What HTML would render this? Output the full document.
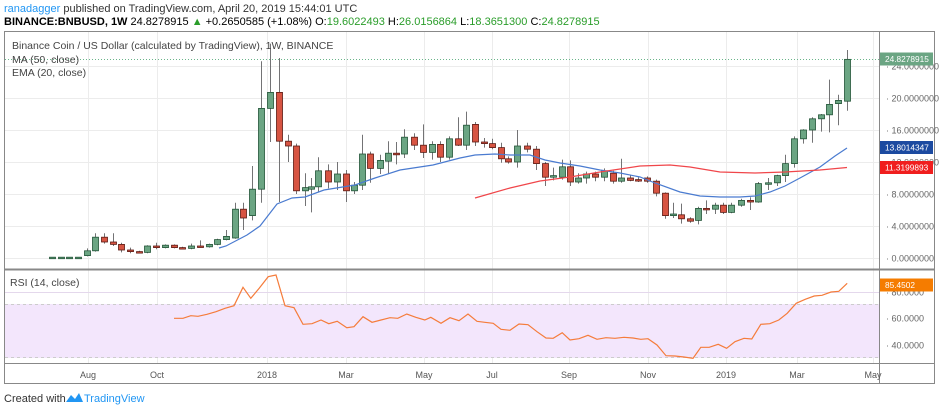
<!DOCTYPE html>
<html><head><meta charset="utf-8">
<style>
body{margin:0;background:#fff;width:939px;height:410px;overflow:hidden;font-family:"Liberation Sans",sans-serif}
svg{position:absolute;left:0;top:0}
</style></head><body>
<svg id="s" width="939" height="410" xmlns="http://www.w3.org/2000/svg" font-family="Liberation Sans, sans-serif">
<text x="4" y="12" font-size="11" fill="#333"><tspan fill="#2196f3">ranadagger</tspan> published on TradingView.com, April 20, 2019 15:44:01 UTC</text>
<text x="4" y="25" font-size="11" fill="#000"><tspan font-weight="bold">BINANCE:BNBUSD, 1W</tspan> 24.8278915 <tspan fill="#2a9d2a">▲</tspan> +0.2650585 (+1.08%) O:<tspan fill="#2a9d2a">19.6022493</tspan> H:<tspan fill="#2a9d2a">26.0156864</tspan> L:<tspan fill="#2a9d2a">18.3651300</tspan> C:<tspan fill="#2a9d2a">24.8278915</tspan></text>
<g id="grid"></g>
<rect x="4.5" y="31.5" width="930" height="352" fill="none" stroke="#888"/>
<line x1="879.5" y1="31" x2="879.5" y2="384" stroke="#888"/>
<line x1="4" y1="269.5" x2="935" y2="269.5" stroke="#888" stroke-width="2"/>
<line x1="4" y1="363.5" x2="935" y2="363.5" stroke="#888"/>
<rect x="5" y="304" width="874" height="54" fill="#f3e6fc"/>
<line x1="5" y1="304.5" x2="879" y2="304.5" stroke="#ccc" stroke-dasharray="3,3"/>
<line x1="5" y1="357.5" x2="879" y2="357.5" stroke="#ccc" stroke-dasharray="3,3"/>
<line x1="5" y1="59.5" x2="879" y2="59.5" stroke="#6ab58a" stroke-dasharray="1,2"/>
<g id="c"></g>
<text x="12" y="49" font-size="10.5" fill="#444">Binance Coin / US Dollar (calculated by TradingView), 1W, BINANCE</text>
<text x="12" y="63" font-size="10.5" fill="#444">MA (50, close)</text>
<text x="12" y="76" font-size="10.5" fill="#444">EMA (20, close)</text>
<text x="10" y="286" font-size="10.5" fill="#444">RSI (14, close)</text>
<text x="4" y="402" font-size="11" fill="#333">Created with</text>
<path d="M66 402 L71 395 L75 399 L79 393 L83 402 Z" fill="#2196f3"/>
<text x="84" y="402" font-size="11" fill="#2196f3">TradingView</text>
</svg>
<script>
const s=document.getElementById('s'),G=document.getElementById('grid'),C=document.getElementById('c');
const NS='http://www.w3.org/2000/svg';
function el(p,t,a,txt){const e=document.createElementNS(NS,t);for(const k in a)e.setAttribute(k,a[k]);if(txt!=null)e.textContent=txt;p.appendChild(e);return e;}
const Y=p=>258-8*p;
[[88,'Aug'],[157,'Oct'],[267,'2018'],[346,'Mar'],[424,'May'],[492,'Jul'],[569,'Sep'],[648,'Nov'],[726,'2019'],[797,'Mar'],[873,'May']].forEach(([x,l])=>{
 el(G,'line',{x1:x+.5,y1:32,x2:x+.5,y2:363,stroke:'#ececec'});
 el(s,'text',{x:x,y:378,'font-size':9,fill:'#555','text-anchor':'middle'},l);
});
[0,4,8,12,16,20,24].forEach(v=>{const y=Y(v);el(G,'line',{x1:5,y1:y+.5,x2:879,y2:y+.5,stroke:'#ececec'});
 el(s,'text',{x:886,y:y+3.5,'font-size':9,fill:'#666'},'· '+v.toFixed(7));});
[[80,292],[60,318],[40,345]].forEach(([v,y])=>{el(G,'line',{x1:5,y1:y+.5,x2:879,y2:y+.5,stroke:'#e4d8ec'});
 el(s,'text',{x:886,y:y+3.5,'font-size':9,fill:'#666'},'· '+v.toFixed(4));});
const D=[[52,.1,.1,.1,.1],[61,.1,.1,.1,.1],[69,.1,.1,.1,.1],[78,.1,.1,.1,.1],[87,.3,1.2,.2,.9],[95,.9,3.1,.8,2.6],[104,2.6,3.1,1.8,2.0],[113,2.0,3.1,1.5,1.7],[121,1.7,1.9,.7,1.0],[130,1.0,1.3,.6,.8],[139,.8,.9,.6,.7],
[147,.7,1.6,.6,1.5],[156,1.5,1.9,1.1,1.3],[165,1.3,1.7,1.2,1.6],[174,1.6,1.7,1.2,1.3],[182,1.3,1.4,1.1,1.2],[191,1.2,1.8,1.1,1.5],[200,1.5,2.2,1.3,1.4],[209,1.4,1.8,1.3,1.7],[217,1.7,2.4,1.6,2.3],[226,2.3,3.5,2.2,2.7],
[235,2.5,6.9,2.4,6.1],[243,6.1,6.9,3.5,5.0],[252,5.3,11.5,4.7,8.6],[261,8.6,24.6,6.9,18.7],[270,18.7,26.8,14.5,20.7],[279,20.7,25,7,14.6],[288,14.6,15.4,12,14.0],[296,14.0,14.3,8.0,8.4],[305,8.4,10.6,6.5,8.8],
[311,8.6,10,5.7,8.9],[318,8.9,12.6,8.2,10.9],[328,10.9,11.7,8.7,9.5],[337,9.5,12,8.5,10.5],[346,10.5,11,7,8.4],[354,8.4,9.5,8.0,9.1],[362,9.1,15.4,8.5,13],[370,13,13.3,9.4,11.2],[380,11.2,12.9,10.5,12.2],[388,12.1,14.6,10.5,13.1],[396,13.1,14.5,11.7,12.9],
[404,13,16.1,12.5,15.1],[414,15.1,15.6,13.5,14.1],[423,14.1,16.7,12.5,13.2],[432,13.2,14.6,12.3,14.2],[440,14.2,14.6,12.0,12.6],[449,12.6,15.2,12.3,14.9],[458,14.9,17.6,14,14.1],[466,14.1,18.3,13.5,16.6],[475,16.7,17,14,14.5],[484,14.5,15,13.8,14.3],[492,14.3,14.9,13.6,13.8],
[501,13.8,14.4,11.9,12.4],[508,12.4,12.7,11.8,12.0],[517,12.0,16,11.3,14.0],[527,14,14.4,13.2,13.6],[536,13.6,14,11,11.8],[545,11.8,12,9,10.1],[553,10.1,11.3,9.7,10.3],[562,10.1,12.3,9.8,11.4],[570,11.4,12.2,9,9.5],[578,9.5,10.6,9.3,10.0],[586,10,10.8,9.3,10.5],
[595,10.5,10.8,9.6,10.1],[604,10.1,11.2,9.6,10.9],[613,10.6,10.9,9.3,9.6],[621,9.6,12.4,9.4,10.0],[630,10,10.4,9.6,9.7],[638,9.8,10.1,9.5,9.7],[647,10,10.2,9.4,9.6],[656,9.6,9.8,7.7,8.1],[665,8.1,8.2,4.9,5.3],[673,5.3,6.9,5,5.5],[681,5.4,6.8,4.3,4.9],
[690,4.9,5.1,4.4,4.6],[698,4.7,6.4,4.2,6.2],[706,6.2,7.2,5.5,6.1],[715,6.1,6.9,5.5,6.6],[723,6.6,6.9,5.5,5.7],[731,5.7,6.9,5.6,6.6],[741,6.6,7.4,6.4,7.2],[750,7.2,7.6,6.0,7.0],[758,7.0,9.5,6.9,9.3],[768,9.3,10.0,8.5,9.4],[777,9.4,10.4,9.0,10.3],
[785,10.3,12.9,9.5,11.8],[794,11.8,15.2,11.3,14.9],[803,14.9,16.1,14.3,16.0],[812,16,17.6,14.4,17.4],[821,17.4,18,15.8,17.9],[829,17.9,22.3,15.7,19.2],[838,19.3,20.4,16.6,19.7],[847,19.6,26.0,18.4,24.83]];
D.forEach(([x,o,h,l,c])=>{const up=c>=o,f=up?'#6ba583':'#d75442',st=up?'#225437':'#5b1a13';
 el(C,'line',{x1:x+.5,y1:Y(h),x2:x+.5,y2:Y(l),stroke:'#737375'});
 const t=Math.min(Y(o),Y(c)),b=Math.max(Y(o),Y(c));
 el(C,'rect',{x:x-2.5,y:t,width:6,height:Math.max(b-t,1.5),fill:f,stroke:st,'stroke-width':.8});});
const ema=[[219,248],[226,246],[247,235],[260,226],[277,204],[292,198],[305,197],[324,190],[355,185],[375,178],[400,170],[433,165],[460,158],[475,155],[495,154],[510,155],[530,155],[545,160],[560,163],[580,166],[600,170],[620,173],[640,177],[655,183],[680,192],[700,196],[720,197],[740,197],[755,196],[770,192],[785,186],[800,178],[820,167],[835,156],[847,148]];
const ma=[[475,198],[510,188],[540,181],[570,177],[600,172],[640,166],[670,165],[690,167],[720,172],[755,173],[785,172],[820,170],[847,167.5]];
el(C,'polyline',{points:ema.join(' '),fill:'none',stroke:'#4a7bd0','stroke-width':1.2});
el(C,'polyline',{points:ma.join(' '),fill:'none',stroke:'#f0464a','stroke-width':1.2});
const R=[[290,175],[305,175],[318,167],[330,169],[345,163],[360,155],[375,145],[390,137],[405,82],[418,115],[432,85],[447,50],[460,45],[475,137],[490,143],[505,193],[520,191],[535,180],[548,191],[562,184],[578,203],[590,200],[605,170],[620,187],[635,180],[650,173],[663,175],[678,162],[693,172],[708,180],[718,172],[735,190],[750,173],[765,182],[780,162],[795,184],[808,187],[822,190],[835,208],[850,211],[865,192],[880,194],[895,215],[910,234],[922,235],[937,218],[950,240],[965,236],[980,226],[995,238],[1010,233],[1025,235],[1040,232],[1055,234],[1068,238],[1080,236],[1095,255],[1110,287],[1125,288],[1140,291],[1155,295],[1168,262],[1182,262],[1197,253],[1211,265],[1225,245],[1240,235],[1253,237],[1268,193],[1283,191],[1298,180],[1312,160],[1327,130],[1342,118],[1357,108],[1370,106],[1385,96],[1398,94],[1412,70]].map(([a,b])=>[(a*0.6).toFixed(1),(260+b/3).toFixed(1)]);
el(C,'polyline',{points:R.join(' '),fill:'none',stroke:'#f57c3b','stroke-width':1.2});
[[59,'#6ba583','24.8278915'],[147.5,'#1c4aa0','13.8014347'],[167.5,'#f01e1e','11.3199893'],[285,'#f57c00','85.4502']].forEach(([y,c,t])=>{
 el(s,'rect',{x:880,y:y-6.5,width:53,height:13,fill:c});
 el(s,'text',{x:885,y:y+3,'font-size':8.3,fill:'#fff'},t);});
</script>
</body></html>
